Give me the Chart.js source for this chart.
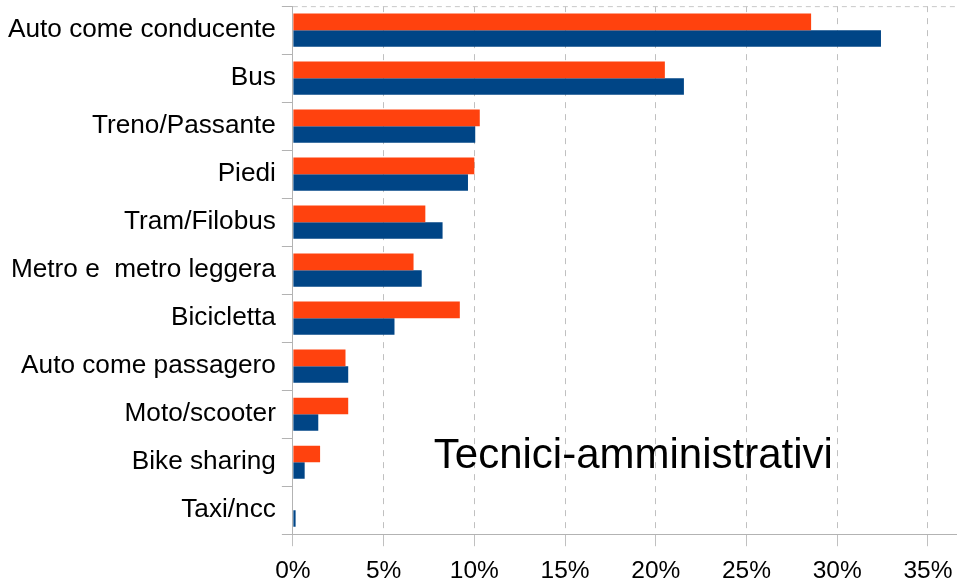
<!DOCTYPE html>
<html>
<head>
<meta charset="utf-8">
<script src="https://cdn.jsdelivr.net/npm/chart.js@4/dist/chart.umd.min.js"></script>
<style>
  html, body { margin: 0; padding: 0; background: #fff; }
  #wrap { width: 957px; height: 582px; }
</style>
</head>
<body>
<div id="wrap"><canvas id="myBarChart" width="957" height="582"></canvas></div>
<script>
// categories, top to bottom
const modes = [
  'Auto come conducente', 'Bus', 'Treno/Passante', 'Piedi', 'Tram/Filobus',
  'Metro e  metro leggera', 'Bicicletta', 'Auto come passagero', 'Moto/scooter',
  'Bike sharing', 'Taxi/ncc'
];
// orange series (upper bar of each pair), percent
const seriesOrange = [28.56, 20.5, 10.3, 10.0, 7.3, 6.65, 9.2, 2.9, 3.05, 1.5, 0];
// blue series (lower bar of each pair), percent
const seriesBlue = [32.41, 21.55, 10.05, 9.65, 8.25, 7.1, 5.6, 3.05, 1.4, 0.65, 0.15];
const xTicks = [0, 5, 10, 15, 20, 25, 30, 35];
const chartTitle = 'Tecnici-amministrativi';

const FONT = '"Liberation Sans", Arial, sans-serif';

// title text drawn inside the plot area, bottom right
const titleInside = {
  id: 'titleInside',
  afterDraw(chart) {
    const { ctx, chartArea } = chart;
    ctx.save();
    ctx.font = '42px ' + FONT;
    ctx.fillStyle = '#000';
    ctx.textAlign = 'center';
    ctx.textBaseline = 'alphabetic';
    const x = chartArea.left + chartArea.width * 0.5126;
    const y = chartArea.top + chartArea.height * 0.8747;
    ctx.fillText(chartTitle, x, y);
    ctx.restore();
  }
};

// dashed line along the top of the plot area
const topLine = {
  id: 'topLine',
  beforeDatasetsDraw(chart) {
    const { ctx, chartArea } = chart;
    ctx.save();
    ctx.strokeStyle = '#c8c8c8';
    ctx.lineWidth = 1;
    ctx.setLineDash([5, 4]);
    ctx.beginPath();
    ctx.moveTo(chartArea.left, chartArea.top + 0.5);
    ctx.lineTo(chartArea.right, chartArea.top + 0.5);
    ctx.stroke();
    ctx.restore();
  }
};

const ctx = document.getElementById('myBarChart').getContext('2d');
const myBarChart = new Chart(ctx, {
  type: 'bar',
  data: {
    labels: modes,
    datasets: [
      { label: 'Serie 2', data: seriesOrange, backgroundColor: '#ff420e' },
      { label: 'Serie 1', data: seriesBlue, backgroundColor: '#004586' }
    ]
  },
  options: {
    indexAxis: 'y',
    responsive: false,
    animation: false,
    datasets: {
      bar: { categoryPercentage: 0.69, barPercentage: 1.0, borderWidth: 0 }
    },
    layout: { padding: { top: -1, right: 0, left: 2, bottom: -13.7 } },
    plugins: {
      legend: { display: false },
      tooltip: { enabled: false }
    },
    scales: {
      x: {
        min: 0,
        max: 36.6,
        afterBuildTicks(axis) {
          axis.ticks = xTicks.map(v => ({ value: v }));
        },
        ticks: {
          color: '#000',
          font: { family: FONT, size: 24.5, lineHeight: 2.02 },
          padding: 0,
          maxRotation: 0,
          callback: v => v + '%'
        },
        grid: {
          color: '#c0c0c0',
          tickColor: '#c0c0c0',
          tickLength: 12,
          lineWidth: 1
        },
        border: { display: true, color: '#b3b3b3', dash: [6, 6] }
      },
      y: {
        ticks: {
          color: '#000',
          font: { family: FONT, size: 26.2, lineHeight: 0.01 },
          padding: 6
        },
        grid: {
          drawOnChartArea: false,
          tickLength: 11,
          color: '#b3b3b3',
          offset: true
        },
        border: { display: true, color: '#b3b3b3' }
      }
    }
  },
  plugins: [titleInside, topLine]
});
</script>
</body>
</html>
